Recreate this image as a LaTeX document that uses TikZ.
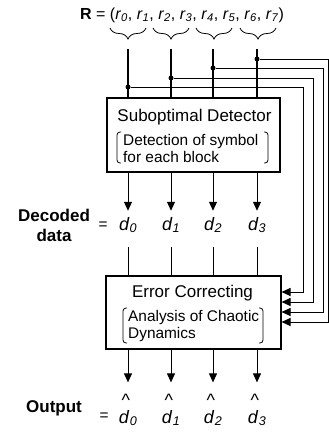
\documentclass[tikz,border=0pt]{standalone}
\usepackage{fontspec}
\setmainfont{Liberation Sans}
\usetikzlibrary{arrows.meta,decorations.pathreplacing}

\newcommand{\ftitle}{\fontsize{17}{20}\selectfont}
\newcommand{\fnote}{\fontsize{15.4}{17.5}\selectfont}
\newcommand{\fsym}{\fontsize{18}{21}\selectfont}
\newcommand{\fvec}{\fontsize{16}{19}\selectfont}
\newcommand{\sym}[2]{\textit{#1}\textsubscript{\textit{#2}}}
\newcommand{\hatsym}[2]{\shortstack{\kern3pt\textasciicircum\\\textit{#1}}\textsubscript{\textit{#2}}}

\tikzset{
  blk/.style={draw, line width=1.1pt, inner sep=0pt},
  wire/.style={line width=1pt},
  arr/.style={wire, -{Triangle[length=9pt,width=8pt]}},
  jdot/.style={circle, fill, inner sep=0pt, minimum size=5pt},
  pbrace/.style={decorate, decoration={brace, amplitude=11pt, mirror}, line width=0.8pt},
  paren/.style={line width=0.8pt, rounded corners=3pt},
}

\begin{document}
\begin{tikzpicture}[x=1pt, y=-1pt]
\useasboundingbox (0,0) rectangle (329,434);

\node[anchor=base west, inner sep=0pt, font=\fvec] (rvec) at (80,19)
  {\textbf{R} = (\sym{r}{0}, \sym{r}{1}, \sym{r}{2}, \sym{r}{3}, \sym{r}{4}, \sym{r}{5}, \sym{r}{6}, \sym{r}{7})};

\draw[pbrace] (110,28) -- (146,28); \draw[pbrace] (153,28) -- (189,28);
\draw[pbrace] (196,28) -- (232,28); \draw[pbrace] (240,28) -- (276,28);

% the two blocks
\node[blk, minimum width=173pt, minimum height=74pt] (det) at (193.5,135) {};
\node[font=\ftitle] (dettitle) at (194.5,117) {Suboptimal Detector};
\node[font=\fnote, align=left, anchor=west, inner sep=0pt] (detnote) at (123,148.5)
  {Detection of symbol\\for each block};
\draw[paren] (121,132) -- (117,132) -- (117,163) -- (121,163);
\draw[paren] (264,132) -- (268,132) -- (268,163) -- (264,163);

\node[blk, minimum width=175pt, minimum height=73pt] (ecc) at (193.5,312.5) {};
\node[font=\ftitle] (ecctitle) at (192.5,293) {Error Correcting};
\node[font=\fnote, align=left, anchor=west, inner sep=0pt] (eccnote) at (128,326)
  {Analysis of Chaotic\\Dynamics};
\draw[paren] (127,308) -- (123,308) -- (123,343) -- (127,343);
\draw[paren] (259,308) -- (263,308) -- (263,343) -- (259,343);

% labels
\node[font=\ftitle\bfseries, align=center] (declbl) at (54,225) {Decoded\\data};
\node[font=\fnote] (deceq) at (103,226) {=};
\node[font=\ftitle\bfseries] (outlbl) at (54,408) {Output};
\node[font=\fnote] (outeq) at (104,417) {=};

\foreach \i/\x/\yj/\xc/\ya in {0/128/87/303/292, 1/171/78/313/302, 2/213/68/323/312, 3/257/59/328.5/322}{
  \coordinate (t\i) at (\x,49);
  \coordinate (j\i) at (\x,\yj);
  \coordinate (c\i) at (\xc,\yj);
  \node[font=\fsym, anchor=base west, inner sep=0pt] (d\i) at (\x-9,230) {\sym{d}{\i}};
  \node[font=\fsym, anchor=base west, inner sep=0pt] (o\i) at (\x-9.7,423) {\hatsym{d}{\i}};
  \draw[wire, line width=1.3pt] (t\i) -- (t\i |- det.north);
  \node[jdot] (n\i) at (j\i) {};
  \draw[arr] (n\i) -- (c\i) -- (c\i |- 0,\ya) -- (ecc.east |- 0,\ya);
  \draw[arr, shorten >=6pt] (t\i |- det.south) -- (t\i |- d\i.north);
  \draw[wire, shorten <=14pt] (t\i |- d\i.south) -- (t\i |- ecc.north);
  \draw[arr, shorten >=12pt] (t\i |- ecc.south) -- (t\i |- o\i.north);
}
\end{tikzpicture}
\end{document}
